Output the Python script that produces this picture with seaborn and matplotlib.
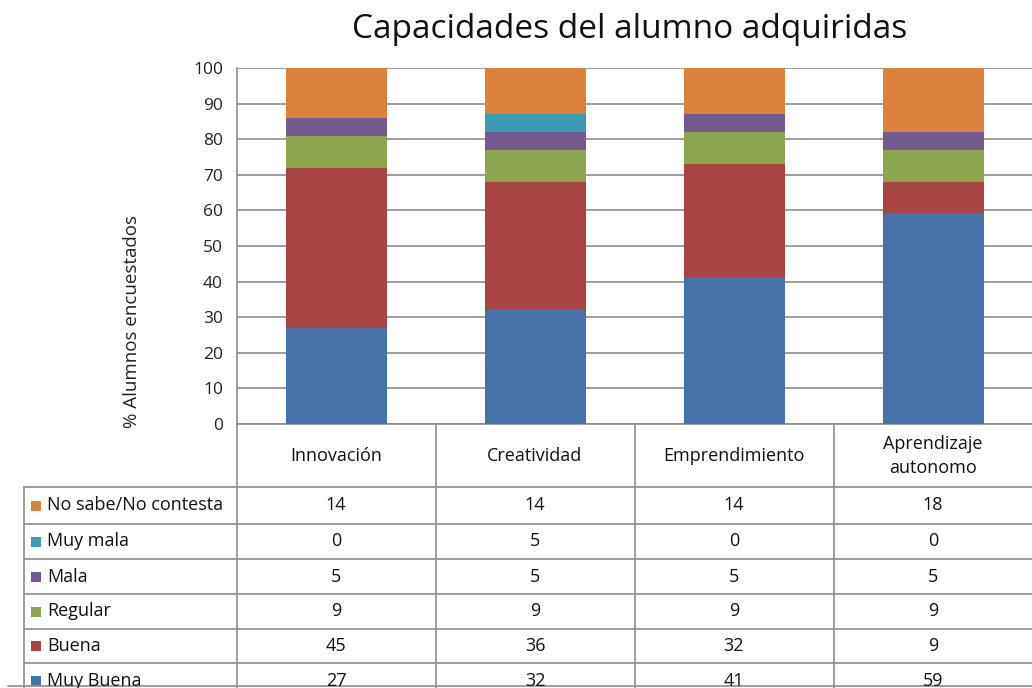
import numpy as np
import matplotlib
matplotlib.use("Agg")
import matplotlib.pyplot as plt
from matplotlib.lines import Line2D
from matplotlib.patches import Rectangle
import seaborn as sns

categories = ["Innovación", "Creatividad", "Emprendimiento", "Aprendizaje\nautonomo"]
series_names = ["Muy Buena", "Buena", "Regular", "Mala", "Muy mala", "No sabe/No contesta"]
muy_buena = [27, 32, 41, 59]
buena = [45, 36, 32, 9]
regular = [9, 9, 9, 9]
mala = [5, 5, 5, 5]
muy_mala = [0, 5, 0, 0]
no_sabe = [14, 14, 14, 18]
series_values = [muy_buena, buena, regular, mala, muy_mala, no_sabe]
colors = ["#4572A7", "#A84543", "#8CA64E", "#745A8E", "#3E9AB3", "#DB823D"]
yticks = [0, 10, 20, 30, 40, 50, 60, 70, 80, 90, 100]

sns.set_theme(style="white")
plt.rcParams["font.family"] = ["Open Sans", "DejaVu Sans"]

W, H = 1032, 688
fig = plt.figure(figsize=(W / 100, H / 100), dpi=100)

def fx(px):
    return px / W

def fy(py):
    return 1 - py / H

ax_left, ax_right, ax_top, ax_bot = 237, 1033, 68, 424
ax = fig.add_axes([fx(ax_left), fy(ax_bot), fx(ax_right - ax_left), fy(ax_top) - fy(ax_bot)])

bottom = np.zeros(len(categories))
for name, vals, col in zip(series_names, series_values, colors):
    sns.barplot(x=list(range(len(categories))), y=vals, bottom=bottom, color=col,
                width=0.51, errorbar=None, ax=ax, saturation=1, linewidth=0, zorder=3)
    bottom = bottom + np.array(vals)

ax.set_xlim(-0.5, len(categories) - 0.5)
ax.set_ylim(0, 100)
ax.set_yticks(yticks)
ax.set_yticklabels([str(t) for t in yticks], fontsize=12.5, color="#222222")
ax.set_xticks([])
ax.set_xlabel("")
ax.set_ylabel("")
ax.yaxis.grid(True, color="#8c8c8c", linewidth=1.2, zorder=0)
ax.set_axisbelow(True)
ax.tick_params(axis="y", length=0, pad=10)
for s in ["top", "right"]:
    ax.spines[s].set_visible(False)
for s in ["left", "bottom"]:
    ax.spines[s].set_color("#8c8c8c")
    ax.spines[s].set_linewidth(1.2)

fig.text(fx(630), fy(29), "Capacidades del alumno adquiridas", ha="center", va="center",
         fontsize=24, color="#111111")
fig.text(fx(132), fy(322), "% Alumnos encuestados", rotation=90, ha="center", va="center",
         fontsize=13.5, color="#222222")

# data table
lc = "#8c8c8c"
def hline(y, x0, x1):
    fig.add_artist(Line2D([fx(x0), fx(x1)], [fy(y), fy(y)], color=lc, lw=1.2))

def vline(x, y0, y1):
    fig.add_artist(Line2D([fx(x), fx(x)], [fy(y0), fy(y1)], color=lc, lw=1.2))

col_edges = [237, 436, 635, 834]
for x in col_edges:
    vline(x, ax_bot, H)
vline(24, 487, H)
row_lines = [487, 524, 559, 594, 629, 663]
for y in row_lines:
    hline(y, 24, W)
hline(686, 8, W)

col_centers = [336, 535, 734, 933]
for cx, cat in zip(col_centers, categories):
    fig.text(fx(cx), fy(456), cat, ha="center", va="center", fontsize=13,
             color="#111111", linespacing=1.45)

table_order = list(range(len(series_names)))[::-1]
row_centers = [505.5, 541.5, 576.5, 611.5, 646, 681]
for rc, idx in zip(row_centers, table_order):
    fig.add_artist(Rectangle((fx(31), fy(rc + 5)), fx(10), fy(rc - 5) - fy(rc + 5),
                             facecolor=colors[idx], edgecolor="none"))
    fig.text(fx(47), fy(rc), series_names[idx], ha="left", va="center", fontsize=13,
             color="#111111")
    for cx, v in zip(col_centers, series_values[idx]):
        fig.text(fx(cx), fy(rc), str(v), ha="center", va="center", fontsize=13,
                 color="#111111")

fig.savefig("out.png", dpi=100)
